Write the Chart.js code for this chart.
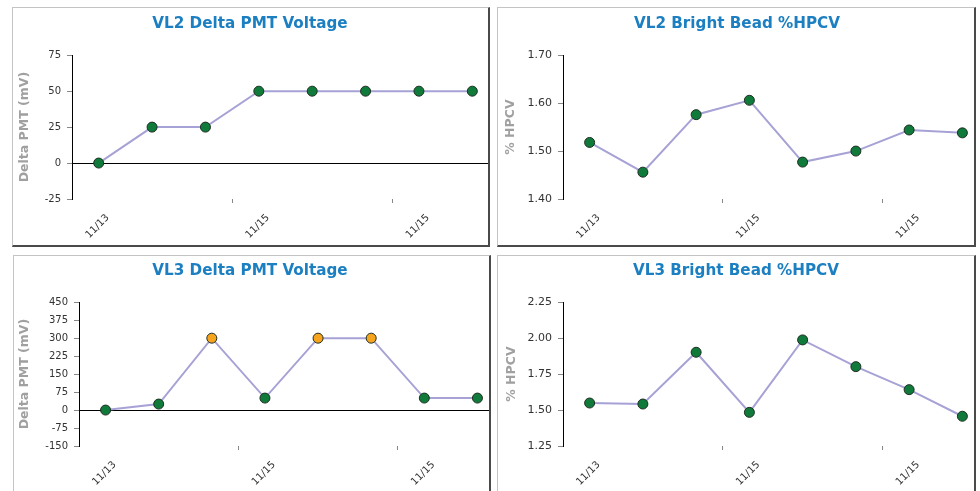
<!DOCTYPE html>
<html>
<head>
<meta charset="utf-8">
<script src="https://cdn.jsdelivr.net/npm/chart.js@4.4.1/dist/chart.umd.min.js"></script>
<style>
    body { margin: 0; background: #fff; width: 980px; height: 491px; overflow: hidden; position: relative; }
    .panel {
        position: absolute; box-sizing: border-box; overflow: hidden; background: #fff;
        border-top: 1px solid #c4c4c4; border-left: 1px solid #c4c4c4;
        border-right: 2px solid #4a4a4a; border-bottom: 2px solid #4a4a4a;
    }
    .panel canvas { position: absolute; top: 0; }
</style>
</head>
<body>
<div class="panel" id="p1" style="left:12px;top:7px;width:478px;height:240px"><canvas id="c1"></canvas></div>
<div class="panel" id="p2" style="left:497px;top:7px;width:479px;height:240px"><canvas id="c2"></canvas></div>
<div class="panel" id="p3" style="left:13px;top:255px;width:478px;height:240px"><canvas id="c3"></canvas></div>
<div class="panel" id="p4" style="left:497px;top:255px;width:479px;height:240px"><canvas id="c4"></canvas></div>
<script>
// category labels (only every 3rd is shown, like the original)
const dates = ['11/13', '11/14', '11/14', '11/15', '11/15', '11/15', '11/15', '11/15'];
const shownLabels = ['11/13', '', '', '11/15', '', '', '11/15', ''];

const vl2Pmt = [0, 25, 25, 50, 50, 50, 50, 50];
const vl2Hpcv = [1.518, 1.456, 1.576, 1.606, 1.477, 1.500, 1.544, 1.538];
const vl3Pmt = [0, 25, 300, 50, 300, 300, 50, 50];
const vl3Hpcv = [1.549, 1.542, 1.902, 1.484, 1.988, 1.802, 1.642, 1.457];

const vl3PmtFlag = [false, false, true, false, true, true, false, false]; // orange markers

const GREEN = '#0f7a3a';
const ORANGE = '#f6a41e';

function makeChart(id, cfg) {
    const canvas = document.getElementById(id);
    canvas.style.left = cfg.canvasLeft + 'px';
    canvas.style.width = cfg.width + 'px';
    canvas.style.height = cfg.height + 'px';
    canvas.width = cfg.width;
    canvas.height = cfg.height;

    return new Chart(canvas.getContext('2d'), {
        type: 'line',
        data: {
            labels: dates,
            datasets: [{
                data: cfg.values,
                borderColor: '#a7a2d6',
                borderWidth: 2,
                tension: 0,
                pointRadius: 5,
                pointHoverRadius: 5,
                pointBorderWidth: 1,
                pointBorderColor: '#1e2e22',
                pointBackgroundColor: cfg.flags
                    ? cfg.flags.map(f => f ? ORANGE : GREEN)
                    : GREEN,
                clip: false,
            }]
        },
        options: {
            responsive: false,
            animation: false,
            events: [],
            layout: { padding: 0, autoPadding: false },
            plugins: {
                legend: { display: false },
                tooltip: { enabled: false },
                title: {
                    display: true,
                    text: cfg.title,
                    color: '#1b7fc1',
                    font: { family: 'DejaVu Sans', size: 15.2, weight: 'bold' },
                    padding: { top: cfg.titleTop, bottom: 22 },
                },
            },
            scales: {
                x: {
                    offset: true,
                    border: { display: false },
                    grid: {
                        offset: true,
                        drawOnChartArea: false,
                        tickLength: 4,
                        color: ctx => (ctx.index % 3 === 0 && ctx.index > 0) ? '#888' : 'rgba(0,0,0,0)',
                    },
                    ticks: {
                        autoSkip: false,
                        minRotation: 45,
                        maxRotation: 45,
                        padding: 9,
                        labelOffset: 9,
                        color: '#333',
                        font: { family: 'DejaVu Sans', size: 10 },
                        callback: (v, i) => shownLabels[i],
                    },
                    afterFit: s => {
                        s.height = cfg.xHeight;
                        s.paddingLeft = 0;
                        s.paddingRight = 0;
                    },
                },
                y: {
                    min: cfg.min,
                    max: cfg.max,
                    border: { display: true, color: '#000', width: 1 },
                    grid: {
                        color: ctx => (cfg.zeroLine && ctx.tick.value === 0) ? '#000' : 'rgba(0,0,0,0)',
                        tickColor: '#888',
                        tickLength: 5,
                        lineWidth: 1,
                    },
                    ticks: {
                        stepSize: cfg.step,
                        padding: 6,
                        color: '#333',
                        font: { family: 'DejaVu Sans', size: cfg.tickSize },
                        callback: v => v.toFixed(cfg.decimals),
                    },
                    title: {
                        display: true,
                        text: cfg.yTitle,
                        color: '#a0a0a0',
                        font: { family: 'DejaVu Sans', size: 12.5, weight: 'bold' },
                        padding: { top: cfg.yTitlePad, bottom: 0 },
                    },
                    afterFit: s => { s.width = cfg.yWidth; },
                },
            },
        },
    });
}

makeChart('c1', {
    title: 'VL2 Delta PMT Voltage', values: vl2Pmt,
    min: -25, max: 75, step: 25, decimals: 0, zeroLine: true, tickSize: 10,
    yTitle: 'Delta PMT (mV)', yTitlePad: 16.5,
    canvasLeft: -12, width: 498, height: 238, yWidth: 71, xHeight: 47, titleTop: 7,
});
makeChart('c2', {
    title: 'VL2 Bright Bead %HPCV', values: vl2Hpcv,
    min: 1.4, max: 1.7, step: 0.1, decimals: 2, zeroLine: false, tickSize: 11,
    yTitle: '% HPCV', yTitlePad: 18.5,
    canvasLeft: -13, width: 504, height: 238, yWidth: 78, xHeight: 47, titleTop: 7,
});
makeChart('c3', {
    title: 'VL3 Delta PMT Voltage', values: vl3Pmt, flags: vl3PmtFlag,
    min: -150, max: 450, step: 75, decimals: 0, zeroLine: true, tickSize: 10,
    yTitle: 'Delta PMT (mV)', yTitlePad: 21.5,
    canvasLeft: -18, width: 508, height: 238, yWidth: 83, xHeight: 48, titleTop: 6,
});
makeChart('c4', {
    title: 'VL3 Bright Bead %HPCV', values: vl3Hpcv,
    min: 1.25, max: 2.25, step: 0.25, decimals: 2, zeroLine: false, tickSize: 11,
    yTitle: '% HPCV', yTitlePad: 21.5,
    canvasLeft: -15, width: 506, height: 238, yWidth: 80, xHeight: 48, titleTop: 6,
});
</script>
</body>
</html>
